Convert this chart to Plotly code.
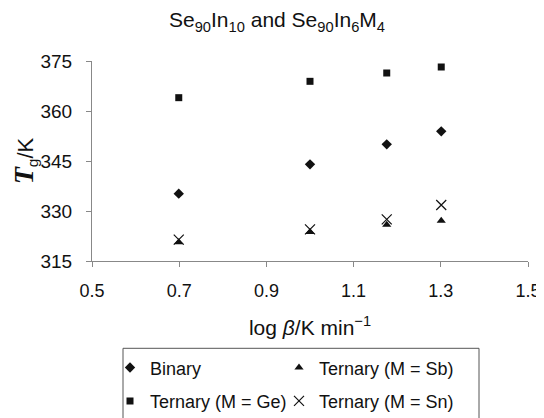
import plotly.graph_objects as go

log_beta = [0.699, 1.0, 1.176, 1.301]
binary = [335.2, 344.0, 350.0, 353.9]
tern_ge = [364.0, 368.9, 371.4, 373.2]
tern_sb = [320.6, 323.7, 325.9, 327.1]
tern_sn = [321.4, 324.5, 327.5, 331.8]

x_ticks = [0.5, 0.7, 0.9, 1.1, 1.3, 1.5]
y_ticks = [315, 330, 345, 360, 375]

FONT = "Liberation Sans, Arial, sans-serif"
FS = 18
INK = "#111111"
AX = "#888888"

# page body has an 8px default margin; figure is sized/offset to compensate
W, H, OFF = 536, 410, 8

fig = go.Figure()
fig.add_trace(go.Scatter(x=log_beta, y=binary, mode="markers", name="Binary",
                         marker=dict(symbol="diamond", size=8, color=INK),
                         legend="legend", legendgroup="a"))
fig.add_trace(go.Scatter(x=log_beta, y=tern_ge, mode="markers", name="Ternary (M = Ge)",
                         marker=dict(symbol="square", size=7, color=INK),
                         legend="legend", legendgroup="b"))
fig.add_trace(go.Scatter(x=log_beta, y=tern_sb, mode="markers", name="Ternary (M = Sb)",
                         marker=dict(symbol="triangle-up", size=8, color=INK),
                         legend="legend2", legendgroup="c"))
fig.add_trace(go.Scatter(x=log_beta, y=tern_sn, mode="markers", name="Ternary (M = Sn)",
                         marker=dict(symbol="x-thin-open", size=10, color=INK,
                                     line=dict(width=1.2, color=INK)),
                         legend="legend2", legendgroup="d"))

leg_common = dict(font=dict(family=FONT, size=FS, color=INK), bgcolor="rgba(0,0,0,0)",
                  borderwidth=0, tracegroupgap=7, xanchor="left", yanchor="top",
                  itemwidth=30)

fig.update_layout(
    width=W, height=H,
    margin=dict(l=92 - OFF, r=16, t=61 - OFF, b=157, autoexpand=False),
    paper_bgcolor="white", plot_bgcolor="white",
    font=dict(family=FONT, size=FS, color=INK),
    title=dict(text="Se<sub>90</sub>In<sub>10</sub> and Se<sub>90</sub>In<sub>6</sub>M<sub>4</sub>",
               x=(277 - OFF) / W, xref="container", xanchor="center",
               y=1 - (20 - OFF) / H, yref="container", yanchor="middle",
               font=dict(family=FONT, size=21, color=INK)),
    xaxis=dict(range=[0.5, 1.5], tickvals=x_ticks, ticktext=[f"{v:.1f}" for v in x_ticks],
               showgrid=False, zeroline=False, showline=True, linecolor=AX, linewidth=1,
               ticks="outside", ticklen=5, tickcolor=AX, ticklabelstandoff=8,
               automargin=False,
               tickfont=dict(family=FONT, size=FS, color=INK),
               title=dict(text="log <i>β</i>/K min<sup>−1</sup>", standoff=20,
                          font=dict(family=FONT, size=21, color=INK))),
    yaxis=dict(range=[315, 375], tickvals=y_ticks, showgrid=False, zeroline=False,
               showline=True, linecolor=AX, linewidth=1, ticks="outside", ticklen=5,
               tickcolor=AX, ticklabelstandoff=10, automargin=False,
               tickfont=dict(family=FONT, size=19, color=INK),
               title=dict(text="<span style=\"font-family:'Liberation Serif',serif;font-weight:bold;font-style:italic;font-size:28px\">T</span><sub>g</sub>/K\u00a0\u00a0\u00a0\u00a0",
                          standoff=2, font=dict(family=FONT, size=22, color=INK))),
    legend=dict(x=(110 - 92) / 436, y=(260.7 - 349) / 200, **leg_common),
    legend2=dict(x=(279 - 92) / 436, y=(260.7 - 349) / 200, **leg_common),
    showlegend=True,
    shapes=[dict(type="rect", xref="paper", yref="paper",
                 x0=(123 - 92) / 436, x1=(479 - 92) / 436,
                 y0=(260.7 - 348) / 200, y1=(260.7 - 440) / 200,
                 line=dict(color="#555555", width=1), fillcolor="rgba(0,0,0,0)")],
)

fig.write_html("out.html")
